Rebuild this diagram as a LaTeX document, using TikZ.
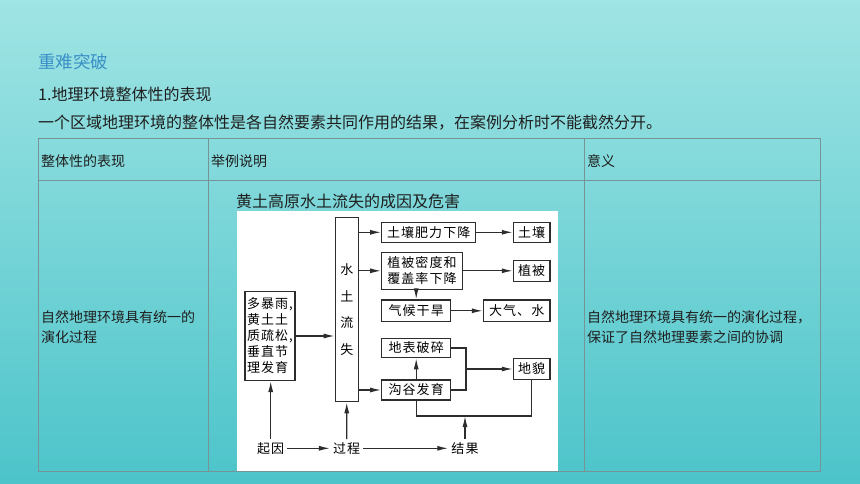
\documentclass[tikz,border=0pt]{standalone}
\usepackage{fontspec}
\setmainfont{Noto Sans CJK SC}
\newfontfamily\tufont[LetterSpace=8]{Noto Sans CJK SC}
\usetikzlibrary{arrows.meta}
\definecolor{bgtop}{RGB}{160,228,228}
\definecolor{bgbot}{RGB}{76,196,202}
\definecolor{tblue}{RGB}{58,143,198}
\definecolor{xian}{RGB}{118,148,150}
\definecolor{kuangse}{RGB}{45,45,45}

\begin{document}
\begin{tikzpicture}[x=1pt,y=-1pt,
kuang/.style={draw=kuangse,line width=1.2pt,fill=white,inner sep=0pt,align=center,font=\tufont\fontsize{13}{16}\selectfont},
wen/.style={inner sep=0pt,anchor=west,text=black!88},
zi/.style={inner sep=3pt,font=\tufont\fontsize{13}{16}\selectfont},
lian/.style={kuangse,line width=1.2pt},
jt/.style={lian,-{Latex[length=11pt,width=5pt]}}]
\path[top color=bgtop,bottom color=bgbot] (0,0) rectangle (860,484);
\useasboundingbox (0,0) rectangle (860,484);
\path (38,62) node(t1)[wen,text=tblue,font=\fontsize{17.5}{20}\selectfont]{重难突破}
(38,94) node(t2)[wen,font=\fontsize{16}{20}\selectfont]{1.地理环境整体性的表现}
(38,123) node(t3)[wen,font=\fontsize{16}{20}\selectfont]{一个区域地理环境的整体性是各自然要素共同作用的结果，在案例分析时不能截然分开。};
%tabla
\fill[white] (237,211) rectangle (558,470.5);
\draw[xian,line width=0.9pt] (38,138.5) rectangle (820,471) (38,180) -- (820,180)
(208,138.5) -- (208,471) (584,138.5) -- (584,471);
\path (41,161.5) node(h1)[wen,font=\fontsize{14}{18}\selectfont]{整体性的表现}
(211,161.5) node(h2)[wen,font=\fontsize{14}{18}\selectfont]{举例说明}
(587,161.5) node(h3)[wen,font=\fontsize{14}{18}\selectfont]{意义}
(41,327) node(l1)[wen,align=left,font=\fontsize{14}{20.6}\selectfont]{自然地理环境具有统一的\\演化过程}
(587,327) node(l3)[wen,align=left,font=\fontsize{14}{20.6}\selectfont]{自然地理环境具有统一的演化过程，\\保证了自然地理要素之间的协调}
(236,201) node(bt)[wen,font=\fontsize{16}{20}\selectfont]{黄土高原水土流失的成因及危害};
\path (270,336) node(a)[kuang,minimum width=50,minimum height=89,align=left]{多暴雨,\\黄土土\\质疏松,\\垂直节\\理发育}
(346.8,309.7) node(b)[kuang,minimum width=23,minimum height=184,font=\tufont\fontsize{13}{26.7}\selectfont]{水\\土\\流\\失}
(428.7,232.3) node(c)[kuang,minimum width=94,minimum height=20]{土壤肥力下降}
(531.7,232.3) node(d)[kuang,minimum width=36.7,minimum height=20]{土壤}
(422,270.8) node(e)[kuang,minimum width=80.6,minimum height=37]{植被密度和\\覆盖率下降}
(531.7,270.8) node(f)[kuang,minimum width=36.7,minimum height=21]{植被}
(416.2,310.8) node(g)[kuang,minimum width=69,minimum height=21.7]{气候干旱}
(516.7,310.8) node(h)[kuang,minimum width=66.7,minimum height=21.7]{大气、水}
(416.2,348) node(i)[kuang,minimum width=69,minimum height=19.4]{地表破碎}
(416.2,390) node(j)[kuang,minimum width=69,minimum height=20]{沟谷发育}
(531.7,369) node(k)[kuang,minimum width=36.7,minimum height=20.3]{地貌}
(270.7,448.3) node(p)[zi]{起因}
(346.7,448.3) node(q)[zi]{过程}
(465,448.3) node(r)[zi]{结果};
\coordinate (m) at (466,369);
\coordinate (n) at (465,416);
\draw[jt](b.east |- c.west) -- (c.west);
\draw[jt](b.east |- e.west) -- (e.west);
\draw[jt](c) -- (d);
\draw[jt](e) -- (f);
\draw[jt](e.south -| g.north) -- (g.north);
\draw[jt](g) -- (h);
\draw[jt](a.east) -- (a.east -| b.west);
\draw[jt](b.east |- j.west) -- (j.west);
\draw[jt](j) -- (i);
\draw[lian](i.east) -| (m) |- (j.east);
\draw[jt](m) -- (k);
\draw[lian](j.south) |- (n) -| (k.south);
\draw[jt](r) -- (n);
\draw[jt](p.north) -- (p.north |- a.south);
\draw[jt](q) -- (b);
\draw[jt](p) -- (q);
\draw[jt](q) -- (r);
\end{tikzpicture}
\end{document}
